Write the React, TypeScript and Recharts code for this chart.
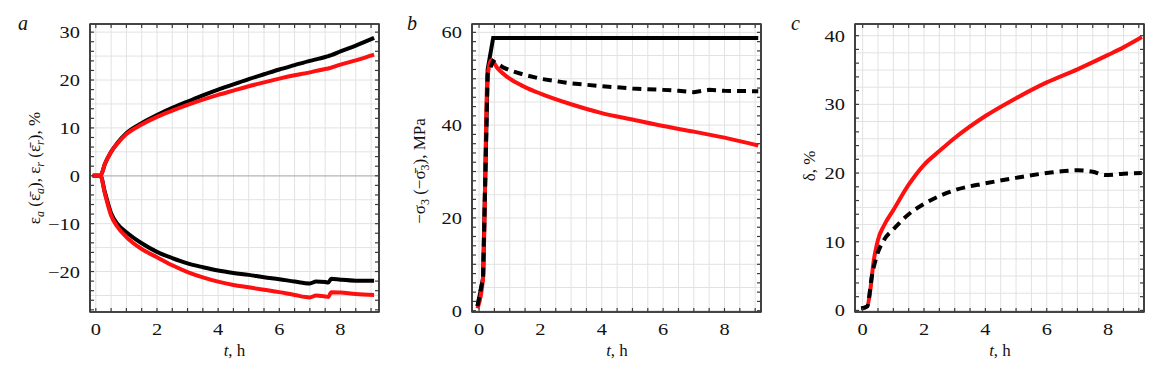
import React from 'react';
import { LineChart, Line, XAxis, YAxis, CartesianGrid, ReferenceLine, ReferenceArea } from 'recharts';

const FONT = 'Liberation Serif, Times New Roman, DejaVu Serif, serif';
const RED = '#ff1010';
const FRAME = '#3a3a3a';
const GRID = '#e2e2e2';

// ---------- shared ticks ----------
const xLabelTicks = [0, 2, 4, 6, 8];
const xMinorTicks = [0, 0.5, 1, 1.5, 2, 2.5, 3, 3.5, 4, 4.5, 5, 5.5, 6, 6.5, 7, 7.5, 8, 8.5, 9];

// ---------- panel a ----------
const aTime = [-0.1, 0.15, 0.3, 0.5, 0.7, 1, 1.5, 2, 2.5, 3, 3.5, 4, 4.5, 5, 5.5, 6, 6.5, 7, 7.2, 7.5, 7.6, 7.7, 8, 8.5, 9.1];
const aUpperBlack = [0, 0, 2.5, 5.0, 6.8, 8.9, 11.0, 12.7, 14.2, 15.5, 16.8, 18.0, 19.1, 20.2, 21.2, 22.2, 23.1, 24.0, 24.3, 24.8, 25.0, 25.2, 26.0, 27.2, 28.8];
const aUpperRed = [0, 0, 2.5, 5.0, 6.7, 8.7, 10.7, 12.3, 13.6, 14.8, 15.9, 16.9, 17.8, 18.7, 19.5, 20.3, 21.0, 21.6, 21.9, 22.3, 22.4, 22.6, 23.2, 24.1, 25.3];
const aLowerBlack = [0, 0, -3.5, -7.8, -10.0, -11.8, -14.1, -15.9, -17.2, -18.3, -19.1, -19.8, -20.3, -20.7, -21.2, -21.6, -22.1, -22.5, -22.1, -22.2, -22.3, -21.5, -21.7, -21.9, -21.9];
const aLowerRed = [0, 0, -3.8, -8.3, -10.6, -12.8, -15.3, -17.0, -18.7, -20.1, -21.2, -22.1, -22.8, -23.3, -23.8, -24.3, -24.9, -25.4, -25.0, -25.2, -25.3, -24.3, -24.4, -24.7, -24.9];
const aYLabels = [-20, -10, 0, 10, 20, 30];
const aYMinor = [-28, -26, -24, -22, -20, -18, -16, -14, -12, -10, -8, -6, -4, -2, 0, 2, 4, 6, 8, 10, 12, 14, 16, 18, 20, 22, 24, 26, 28, 30];
const aYGrid = [-25, -20, -15, -10, -5, 5, 10, 15, 20, 25, 30];

// ---------- panel b ----------
const bSolidTime = [-0.05, 0.13, 0.28, 0.46, 9.1];
const bSolidBlack = [1.0, 7.0, 52.0, 58.8, 58.8];
const bRedTime = [-0.05, 0.13, 0.27, 0.4, 0.6, 1, 1.5, 2, 3, 4, 5, 6, 7, 8, 9.1];
const bRed = [0.5, 7.0, 50.0, 54.0, 52.3, 50.0, 48.2, 46.8, 44.5, 42.6, 41.2, 39.8, 38.6, 37.3, 35.6];
const bDashTime = [-0.05, 0.13, 0.28, 0.46, 0.8, 1, 1.5, 2, 3, 4, 5, 6, 6.5, 7, 7.5, 8, 9.1];
const bDashBlack = [1.0, 7.0, 51.0, 53.8, 52.4, 51.8, 50.8, 50.0, 49.0, 48.4, 47.9, 47.6, 47.4, 47.1, 47.6, 47.4, 47.3];
const bYLabels = [0, 20, 40, 60];
const bYMinor = [0, 2, 4, 6, 8, 10, 12, 14, 16, 18, 20, 22, 24, 26, 28, 30, 32, 34, 36, 38, 40, 42, 44, 46, 48, 50, 52, 54, 56, 58, 60];
const bYGrid = [0, 5, 10, 15, 20, 25, 30, 35, 40, 45, 50, 55, 60];

// ---------- panel c ----------
const cRedTime = [-0.05, 0.15, 0.25, 0.35, 0.5, 0.7, 1, 1.5, 2, 2.5, 3, 4, 5, 6, 7, 8, 8.5, 9.1];
const cRed = [0.3, 0.6, 3.0, 6.9, 10.3, 12.4, 14.6, 18.3, 21.2, 23.2, 25.1, 28.3, 30.9, 33.2, 35.1, 37.2, 38.3, 39.8];
const cDashTime = [-0.05, 0.15, 0.3, 0.45, 0.7, 1, 1.5, 2, 3, 4, 5, 6, 7, 7.5, 7.9, 8.5, 9.1];
const cDashBlack = [0.3, 0.6, 5.0, 7.8, 10.3, 11.8, 14.0, 15.5, 17.5, 18.5, 19.3, 20.0, 20.4, 20.2, 19.7, 19.9, 20.0];
const cYLabels = [0, 10, 20, 30, 40];
const cYMinor = [0, 2, 4, 6, 8, 10, 12, 14, 16, 18, 20, 22, 24, 26, 28, 30, 32, 34, 36, 38, 40];
const cYGrid = [0, 2.5, 5, 7.5, 10, 12.5, 15, 17.5, 20, 22.5, 25, 27.5, 30, 32.5, 35, 37.5, 40];

const toPts = (t: number[], v: number[]) => t.map((x, i) => ({ t: x, v: v[i] }));

const fmt = (v: number) => (v < 0 ? '\u2212' + Math.abs(v) : String(v));

const txtStyle: React.CSSProperties = { fontFamily: FONT };

const TICK_LEN = 4;

const makeXTick = (labels: number[]) => (props: any) => {
  const { x, y, payload } = props;
  if (!labels.includes(payload.value)) return <g />;
  return (
    <text
      x={0}
      y={0}
      transform={`translate(${x},${y + TICK_LEN + 23}) scale(1.2,1)`}
      textAnchor="middle"
      fontSize={17}
      style={txtStyle}
      fill="#111"
    >
      {fmt(payload.value)}
    </text>
  );
};

const makeYTick = (labels: number[]) => (props: any) => {
  const { x, y, payload } = props;
  if (!labels.includes(payload.value)) return <g />;
  return (
    <text
      x={0}
      y={0}
      transform={`translate(${x - TICK_LEN - 10},${y + 6}) scale(1.2,1)`}
      textAnchor="end"
      fontSize={17}
      style={txtStyle}
      fill="#111"
    >
      {fmt(payload.value)}
    </text>
  );
};

const emptyTick = () => <g />;

type PanelProps = {
  left: number;
  width: number;
  marginLeft: number;
  marginRight: number;
  xDomain: [number, number];
  yDomain: [number, number];
  yLabels: number[];
  yMinor: number[];
  yGrid: number[];
  anchor: { t: number; v: number }[];
  children: React.ReactNode;
};

const Panel = ({ left, width, marginLeft, marginRight, xDomain, yDomain, yLabels, yMinor, yGrid, anchor, children }: PanelProps) => (
  <div style={{ position: 'absolute', left, top: 0 }}>
    <LineChart
      width={width}
      height={373}
      margin={{ top: 23, right: marginRight - 1, bottom: 21, left: marginLeft }}
    >
      <CartesianGrid
        stroke={GRID}
        strokeWidth={1}
        verticalValues={xMinorTicks}
        horizontalValues={yGrid}
      />
      <XAxis
        dataKey="t"
        type="number"
        domain={xDomain}
        allowDataOverflow
        ticks={xMinorTicks}
        interval={0}
        height={40}
        tickSize={-TICK_LEN}
        tickMargin={0}
        tickLine={{ stroke: FRAME, strokeWidth: 1.2 }}
        axisLine={{ stroke: FRAME, strokeWidth: 1.6 }}
        tick={makeXTick(xLabelTicks)}
      />
      <XAxis
        xAxisId="top"
        dataKey="t"
        type="number"
        orientation="top"
        height={1}
        domain={xDomain}
        allowDataOverflow
        ticks={xMinorTicks}
        interval={0}
        tickSize={-TICK_LEN}
        tickMargin={0}
        tick={emptyTick}
        axisLine={{ stroke: FRAME, strokeWidth: 1.6 }}
        tickLine={{ stroke: FRAME, strokeWidth: 1.2 }}
      />
      <YAxis
        type="number"
        domain={yDomain}
        allowDataOverflow
        ticks={yMinor}
        interval={0}
        width={60}
        tickSize={-TICK_LEN}
        tickMargin={0}
        tickLine={{ stroke: FRAME, strokeWidth: 1.2 }}
        axisLine={{ stroke: FRAME, strokeWidth: 1.6 }}
        tick={makeYTick(yLabels)}
      />
      <YAxis
        yAxisId="right"
        type="number"
        orientation="right"
        width={1}
        domain={yDomain}
        allowDataOverflow
        ticks={yMinor}
        interval={0}
        tickSize={-TICK_LEN}
        tickMargin={0}
        tick={emptyTick}
        axisLine={{ stroke: FRAME, strokeWidth: 1.6 }}
        tickLine={{ stroke: FRAME, strokeWidth: 1.2 }}
      />
      <ReferenceArea
        x1={xDomain[0]}
        x2={xDomain[1]}
        y1={yDomain[0]}
        y2={yDomain[1]}
        fill="none"
        fillOpacity={0}
        stroke={FRAME}
        strokeWidth={1.6}
        ifOverflow="visible"
      />
      {/* invisible carrier so the top/right frame axes get a scale */}
      <Line data={anchor} dataKey="v" xAxisId="top" yAxisId="right" stroke="none" strokeWidth={0} dot={false} activeDot={false} isAnimationActive={false} />
      {children}
    </LineChart>
  </div>
);

const sub = (s: string) => (
  <tspan fontStyle="italic" fontSize={12} dy={4}>
    {s}
  </tspan>
);

export default function App() {
  return (
    <div style={{ position: 'absolute', left: 0, top: 0, width: 1165, height: 373, background: '#fff' }}>
      {/* panel a */}
      <Panel
        left={0}
        width={390}
        marginLeft={30}
        marginRight={11}
        xDomain={[-0.19, 9.26]}
        yDomain={[-28.45, 31.7]}
        yLabels={aYLabels}
        yMinor={aYMinor}
        yGrid={aYGrid}
        anchor={toPts(aTime, aUpperBlack)}
      >
        <ReferenceLine y={0} stroke="#b4b4b4" strokeWidth={1.2} />
        <Line data={toPts(aTime, aUpperBlack)} dataKey="v" type="monotone" stroke="#000" strokeWidth={4} dot={false} isAnimationActive={false} />
        <Line data={toPts(aTime, aLowerBlack)} dataKey="v" type="monotone" stroke="#000" strokeWidth={4} dot={false} isAnimationActive={false} />
        <Line data={toPts(aTime, aUpperRed)} dataKey="v" type="monotone" stroke={RED} strokeWidth={4} dot={false} isAnimationActive={false} />
        <Line data={toPts(aTime, aLowerRed)} dataKey="v" type="monotone" stroke={RED} strokeWidth={4} dot={false} isAnimationActive={false} />
      </Panel>

      {/* panel b */}
      <Panel
        left={390}
        width={385}
        marginLeft={22}
        marginRight={14}
        xDomain={[-0.23, 9.19]}
        yDomain={[-0.28, 61.8]}
        yLabels={bYLabels}
        yMinor={bYMinor}
        yGrid={bYGrid}
        anchor={toPts(bRedTime, bRed)}
      >
        <Line data={toPts(bSolidTime, bSolidBlack)} dataKey="v" type="linear" stroke="#000" strokeWidth={4} dot={false} isAnimationActive={false} />
        <Line data={toPts(bRedTime, bRed)} dataKey="v" type="monotone" stroke={RED} strokeWidth={4} dot={false} isAnimationActive={false} />
        <Line data={toPts(bDashTime, bDashBlack)} dataKey="v" type="linear" stroke="#000" strokeWidth={4} strokeDasharray="9 6" dot={false} isAnimationActive={false} />
      </Panel>

      {/* panel c */}
      <Panel
        left={775}
        width={390}
        marginLeft={20}
        marginRight={21}
        xDomain={[-0.25, 9.17]}
        yDomain={[-0.23, 41.7]}
        yLabels={cYLabels}
        yMinor={cYMinor}
        yGrid={cYGrid}
        anchor={toPts(cRedTime, cRed)}
      >
        <Line data={toPts(cRedTime, cRed)} dataKey="v" type="monotone" stroke={RED} strokeWidth={4} dot={false} isAnimationActive={false} />
        <Line data={toPts(cDashTime, cDashBlack)} dataKey="v" type="monotone" stroke="#000" strokeWidth={4} strokeDasharray="9 6" dot={false} isAnimationActive={false} />
      </Panel>

      {/* annotations */}
      <svg width={1165} height={373} style={{ position: 'absolute', left: 0, top: 0, pointerEvents: 'none' }}>
        <g style={txtStyle} fill="#111">
          <text x={18} y={30} fontSize={20} fontStyle="italic" style={txtStyle}>a</text>
          <text x={407} y={30} fontSize={20} fontStyle="italic" style={txtStyle}>b</text>
          <text x={791} y={30} fontSize={20} fontStyle="italic" style={txtStyle}>c</text>

          <text x={234.5} y={356} fontSize={17} textAnchor="middle" style={txtStyle}>
            <tspan fontStyle="italic">t</tspan>, h
          </text>
          <text x={617} y={356} fontSize={17} textAnchor="middle" style={txtStyle}>
            <tspan fontStyle="italic">t</tspan>, h
          </text>
          <text x={1000} y={356} fontSize={17} textAnchor="middle" style={txtStyle}>
            <tspan fontStyle="italic">t</tspan>, h
          </text>

          <text transform="translate(40,168) rotate(-90)" fontSize={17} textAnchor="middle" style={txtStyle}>
            ε{sub('a')}
            <tspan dy={-4}> (ε{'\u0304'}</tspan>
            {sub('a')}
            <tspan dy={-4}>), ε</tspan>
            {sub('r')}
            <tspan dy={-4}> (ε{'\u0304'}</tspan>
            {sub('r')}
            <tspan dy={-4}>), %</tspan>
          </text>

          <text transform="translate(425,171) rotate(-90)" fontSize={17} textAnchor="middle" style={txtStyle}>
            {'\u2212σ'}
            <tspan fontSize={12} dy={4}>3</tspan>
            <tspan dy={-4}> ({'\u2212σ\u0304'}</tspan>
            <tspan fontSize={12} dy={4}>3</tspan>
            <tspan dy={-4}>), MPa</tspan>
          </text>

          <text transform="translate(815,166) rotate(-90)" fontSize={17} textAnchor="middle" style={txtStyle}>
            δ, %
          </text>
        </g>
      </svg>
    </div>
  );
}
